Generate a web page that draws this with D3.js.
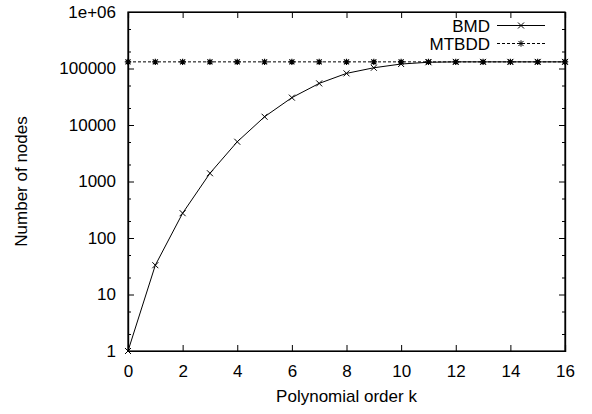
<!DOCTYPE html>
<html>
<head>
<meta charset="utf-8">
<script src="https://cdn.jsdelivr.net/npm/d3@7"></script>
<style>
body { margin: 0; background: #fff; }
text { font-family: "Liberation Sans", Arial, sans-serif; fill: #000; }
</style>
</head>
<body>
<div id="chart"></div>
<script>
var orders = [0, 1, 2, 3, 4, 5, 6, 7, 8, 9, 10, 11, 12, 13, 14, 15, 16]
var bmdNodes = [1, 33, 275, 1400, 5050, 14000, 30500, 54500, 82000, 103000, 120000, 129000, 131000, 131072, 131072, 131072, 131072]
var mtbddNodes = [131072, 131072, 131072, 131072, 131072, 131072, 131072, 131072, 131072, 131072, 131072, 131072, 131072, 131072, 131072, 131072, 131072]
var xTicks = [0, 2, 4, 6, 8, 10, 12, 14, 16]
var yTicks = [1, 10, 100, 1000, 10000, 100000, 1000000]
var yTickLabels = ["1", "10", "100", "1000", "10000", "100000", "1e+06"]

var width = 592, height = 414
var margin = {left: 128, right: 27, top: 12, bottom: 63}

var svg = d3.select("#chart").append("svg")
    .attr("width", width)
    .attr("height", height)

var x = d3.scaleLinear().domain([0, 16]).range([margin.left, width - margin.right])
var y = d3.scaleLog().domain([1, 1e6]).range([height - margin.bottom, margin.top])

// minor ticks at 2 and 5 of each decade
var minorY = []
yTicks.slice(0, -1).forEach(function (d) {
    minorY.push(d * 2)
    minorY.push(d * 5)
})

var fontSize = 17

// bottom axis + mirrored top
var xAxis = svg.append("g")
    .attr("transform", "translate(0," + y(1) + ")")
    .call(d3.axisBottom(x).tickValues(xTicks).tickSize(-6).tickPadding(14))
xAxis.selectAll("text").style("font-size", fontSize + "px")
svg.append("g")
    .attr("transform", "translate(0," + y(1e6) + ")")
    .call(d3.axisTop(x).tickValues(xTicks).tickSize(-6).tickFormat(""))

// left axis + mirrored right
var yAxis = svg.append("g")
    .attr("transform", "translate(" + x(0) + ",0)")
    .call(d3.axisLeft(y).tickValues(yTicks).tickSize(-6).tickPadding(12)
        .tickFormat(function (d, i) { return yTickLabels[i] }))
yAxis.selectAll("text").style("font-size", fontSize + "px")
svg.append("g")
    .attr("transform", "translate(" + x(0) + ",0)")
    .call(d3.axisLeft(y).tickValues(minorY).tickSize(-3).tickFormat(""))
svg.append("g")
    .attr("transform", "translate(" + x(16) + ",0)")
    .call(d3.axisRight(y).tickValues(yTicks).tickSize(-6).tickFormat(""))
svg.append("g")
    .attr("transform", "translate(" + x(16) + ",0)")
    .call(d3.axisRight(y).tickValues(minorY).tickSize(-3).tickFormat(""))

svg.selectAll(".domain").attr("stroke", "#000").attr("stroke-width", 1.2)
svg.selectAll(".tick line").attr("stroke", "#000")

// border box
svg.append("rect")
    .attr("x", x(0)).attr("y", y(1e6))
    .attr("width", x(16) - x(0)).attr("height", y(1) - y(1e6))
    .attr("fill", "none").attr("stroke", "#000").attr("stroke-width", 1.2)

// axis titles
svg.append("text")
    .attr("x", (x(0) + x(16)) / 2)
    .attr("y", 402)
    .attr("text-anchor", "middle")
    .style("font-size", fontSize + "px")
    .text("Polynomial order k")
svg.append("text")
    .attr("transform", "translate(27," + (y(1) + y(1e6)) / 2 + ") rotate(-90)")
    .attr("text-anchor", "middle")
    .style("font-size", fontSize + "px")
    .text("Number of nodes")

function crossPath(s) {
    return "M" + (-s) + "," + (-s) + "L" + s + "," + s + "M" + (-s) + "," + s + "L" + s + "," + (-s)
}
function starPath(s) {
    return crossPath(s * 0.8) + "M" + (-s) + ",0L" + s + ",0M0," + (-s) + "L0," + s
}

var line = d3.line()
    .x(function (d, i) { return x(orders[i]) })
    .y(function (d) { return y(d) })

// MTBDD
svg.append("path")
    .datum(mtbddNodes)
    .attr("d", line)
    .attr("fill", "none")
    .attr("stroke", "#000")
    .attr("stroke-width", 1)
    .attr("stroke-dasharray", "3,2")
svg.selectAll(".mt")
    .data(mtbddNodes)
    .enter()
    .append("path")
    .attr("class", "mt")
    .attr("transform", function (d, i) { return "translate(" + x(orders[i]) + "," + y(d) + ")" })
    .attr("d", starPath(3.2))
    .attr("stroke", "#000")
    .attr("stroke-width", 1.2)

// BMD
svg.append("path")
    .datum(bmdNodes)
    .attr("d", line)
    .attr("fill", "none")
    .attr("stroke", "#000")
    .attr("stroke-width", 1)
svg.selectAll(".bmd")
    .data(bmdNodes)
    .enter()
    .append("path")
    .attr("class", "bmd")
    .attr("transform", function (d, i) { return "translate(" + x(orders[i]) + "," + y(d) + ")" })
    .attr("d", crossPath(3))
    .attr("stroke", "#000")
    .attr("stroke-width", 1)

// legend
var legend = [
    {name: "BMD", dash: null, marker: crossPath(3), y: 25.5},
    {name: "MTBDD", dash: "3,2", marker: starPath(3.2), y: 43.5}
]
legend.forEach(function (l) {
    svg.append("text")
        .attr("x", 490)
        .attr("y", l.y)
        .attr("dy", "0.36em")
        .attr("text-anchor", "end")
        .style("font-size", fontSize + "px")
        .text(l.name)
    svg.append("line")
        .attr("x1", 497).attr("x2", 545)
        .attr("y1", l.y).attr("y2", l.y)
        .attr("stroke", "#000")
        .attr("stroke-dasharray", l.dash)
    svg.append("path")
        .attr("transform", "translate(521," + l.y + ")")
        .attr("d", l.marker)
        .attr("stroke", "#000")
})
</script>
</body>
</html>
